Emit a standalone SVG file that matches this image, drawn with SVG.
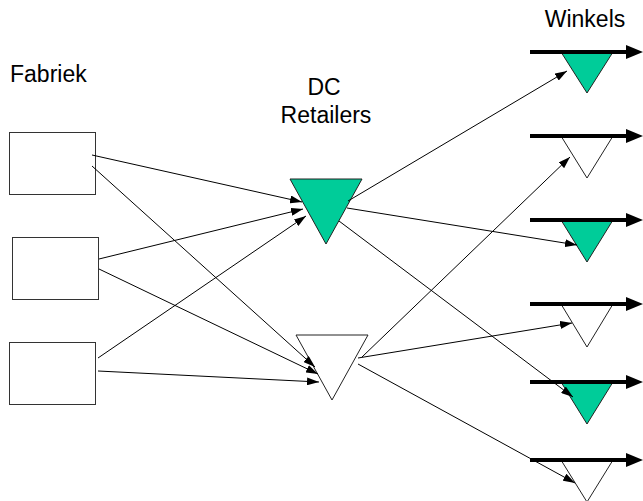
<svg xmlns="http://www.w3.org/2000/svg" width="643" height="501" viewBox="0 0 643 501">
  <style>
    .label { font-family: "Liberation Sans", Arial, sans-serif; font-size: 23px; fill: #000; }
    .box { fill: #fff; stroke: #333; stroke-width: 1; }
    .tri-green { fill: #00cc99; stroke: #222; stroke-width: 1; }
    .tri-white { fill: #fff; stroke: #222; stroke-width: 1; }
    .flow { fill: none; stroke: #000; stroke-width: 1; marker-end: url(#arrow); }
    .out-line { fill: none; stroke: #000; stroke-width: 4; }
    .out-head { fill: #000; }
  </style>
  <defs>
    <marker id="arrow" markerUnits="userSpaceOnUse" markerWidth="12" markerHeight="8" refX="12" refY="4" orient="auto">
      <path d="M0,0 L12,4 L0,8 z" fill="#000"/>
    </marker>
    <g id="out-arrow">
      <line class="out-line" x1="530" y1="0" x2="628" y2="0"/>
      <polygon class="out-head" points="626,-7 643,0 626,7"/>
    </g>
  </defs>

  <!-- column titles -->
  <text class="label" x="10" y="82">Fabriek</text>
  <text class="label" x="324" y="95" text-anchor="middle">DC</text>
  <text class="label" x="326" y="123" text-anchor="middle">Retailers</text>
  <text class="label" x="585" y="27" text-anchor="middle">Winkels</text>

  <!-- factories -->
  <g id="fabriek-1"><rect class="box" x="9.5" y="132.5" width="86" height="62"/></g>
  <g id="fabriek-2"><rect class="box" x="12.5" y="237.5" width="86" height="62"/></g>
  <g id="fabriek-3"><rect class="box" x="9.5" y="342.5" width="86" height="62"/></g>

  <!-- distribution centres -->
  <g id="dc-1"><polygon class="tri-green" points="290,179 362,179 326,244"/></g>
  <g id="dc-2"><polygon class="tri-white" points="296,335 368,335 332,400"/></g>

  <!-- shops: triangle under an outgoing flow arrow -->
  <g id="winkel-1">
    <polygon class="tri-green" points="561,52 613,52 587,93"/>
    <use href="#out-arrow" y="52"/>
  </g>
  <g id="winkel-2">
    <polygon class="tri-white" points="561,136 613,136 587,178"/>
    <use href="#out-arrow" y="136"/>
  </g>
  <g id="winkel-3">
    <polygon class="tri-green" points="561,220 613,220 587,262"/>
    <use href="#out-arrow" y="220"/>
  </g>
  <g id="winkel-4">
    <polygon class="tri-white" points="561,304 613,304 587,347"/>
    <use href="#out-arrow" y="304"/>
  </g>
  <g id="winkel-5">
    <polygon class="tri-green" points="561,382 613,382 587,424"/>
    <use href="#out-arrow" y="382"/>
  </g>
  <g id="winkel-6">
    <polygon class="tri-white" points="561,460 613,460 587,502"/>
    <use href="#out-arrow" y="460"/>
  </g>

  <!-- flows -->
  <g id="connectors">
    <line class="flow" x1="92" y1="155" x2="302" y2="202"/>
    <line class="flow" x1="92" y1="166" x2="315" y2="367"/>
    <line class="flow" x1="99" y1="259" x2="303" y2="209"/>
    <line class="flow" x1="99" y1="269" x2="318" y2="374"/>
    <line class="flow" x1="98" y1="358" x2="306" y2="216"/>
    <line class="flow" x1="98" y1="371" x2="319" y2="382"/>

    <line class="flow" x1="348" y1="201" x2="567" y2="71"/>
    <line class="flow" x1="347" y1="208" x2="577" y2="245"/>
    <line class="flow" x1="339" y1="221" x2="573" y2="397"/>

    <line class="flow" x1="362" y1="357" x2="570" y2="157"/>
    <line class="flow" x1="358" y1="358" x2="572" y2="323"/>
    <line class="flow" x1="358" y1="364" x2="575" y2="483"/>
  </g>
</svg>
